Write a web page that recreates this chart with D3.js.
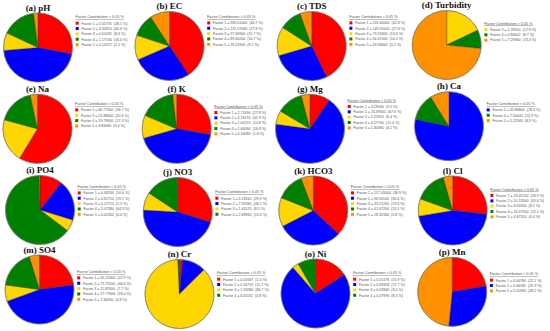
<!DOCTYPE html>
<html>
<head>
<meta charset="utf-8">
<script src="https://cdn.jsdelivr.net/npm/d3@7"></script>
<style>
    body { margin: 0; background: #fff; }
    svg { display: block; }
</style>
</head>
<body>
<div id="graph"></div>
<script>
/*global d3 */

// values
var panelTitles = ["(a) pH", "(b) EC", "(c) TDS", "(d) Turbidity",
                   "(e) Na", "(f) K", "(g) Mg", "(h) Ca",
                   "(i) PO4", "(j) NO3", "(k) HCO3", "(l) Cl",
                   "(m) SO4", "(n) Cr", "(o) Ni", "(p) Mn"];

var panelFactors = [
    [1, 2, 3, 4, 5], [1, 2, 3, 4, 5], [1, 2, 3, 4, 5], [3, 4, 5],
    [1, 3, 4, 5], [1, 2, 3, 4, 5], [1, 2, 3, 4, 5], [2, 4, 5],
    [1, 2, 3, 4, 5], [1, 2, 3, 4], [1, 2, 3, 4, 5], [1, 2, 3, 4, 5],
    [1, 2, 3, 4, 5], [1, 2, 3, 4], [1, 2, 3, 4], [1, 2, 5]
];

var panelValues = [
    [2.05735, 3.34310, 0.61035, 1.17130, 0.15072],
    [339.01000, 231.57000, 97.30900, 89.60200, 76.21900],
    [231.60000, 149.55000, 73.53300, 56.67000, 29.56600],
    [1.78200, 0.86602, 7.29360],
    [66.77300, 23.38600, 19.79600, 3.83060],
    [2.71690, 4.19270, 1.05270, 1.64090, 0.18080],
    [3.28160, 23.39300, 2.22950, 4.27740, 1.40390],
    [45.86800, 7.50040, 5.22340],
    [0.34264, 0.61710, 0.17710, 2.07280, 0.01350],
    [5.13610, 7.92360, 1.45570, 2.69830],
    [117.03000, 96.90100, 43.21200, 41.67200, 18.32300],
    [29.45700, 50.13500, 8.92050, 16.57500, 4.87520],
    [35.22400, 71.75100, 11.87000, 27.77600, 7.36260],
    [0.02067, 0.16719, 1.29280, 0.01131],
    [0.15176, 0.69358, 0.02840, 0.07996],
    [0.04784, 0.06285, 0.10390]
];

var panelShares = [
    [28.1, 45.6, 8.3, 16.0, 2.1],
    [40.7, 27.8, 11.7, 10.7, 9.1],
    [42.8, 27.6, 13.6, 10.5, 5.5],
    [17.9, 8.7, 73.4],
    [58.7, 20.6, 17.4, 3.4],
    [27.8, 42.9, 10.8, 16.8, 1.8],
    [9.5, 67.6, 6.4, 12.4, 4.1],
    [78.3, 12.9, 8.9],
    [10.6, 19.1, 5.5, 64.3, 0.4],
    [29.9, 46.1, 8.5, 15.6],
    [36.9, 30.6, 13.6, 13.1, 5.8],
    [26.9, 45.6, 8.1, 15.1, 4.4],
    [22.9, 46.6, 7.7, 18.0, 4.8],
    [1.4, 11.2, 86.7, 0.8],
    [15.9, 72.7, 3.0, 8.4],
    [22.1, 29.3, 48.5]
];

var legendHeader = "Factor Contribution > 0.05 %";

function dessinCamemberts() {
    "use strict";
    var width = 550,
        height = 331,
        rayon = 34.5,

        couleurs = d3.scaleOrdinal()
            .domain([1, 2, 3, 4, 5])
            .range(["#ff0000", "#0000ff", "#ffd700", "#008000", "#ff9000"]),

        // panel layout: pie centre x, centre y, legend header y
        cases = [
            [38, 47.5, 17], [169.5, 46, 16.7], [311.7, 46, 16.7], [446.7, 45, 23.3],
            [37.5, 128.8, 103.7], [176.7, 128.8, 106.3], [310, 128.8, 100.3], [449, 126.2, 103.7],
            [40, 210, 186.7], [177.7, 212, 192], [313.3, 210.5, 186.7], [452.7, 210.5, 189.3],
            [39.5, 289.5, 271.7], [179.5, 294, 273], [315.5, 293.5, 273], [452.2, 291.8, 274]
        ],

        fmtVal = d3.format(".5f"),
        fmtPct = d3.format(".1f"),

        pie = d3.pie()
            .sort(null)
            .value(function (d) { return d.valeur; }),
        arc = d3.arc()
            .innerRadius(0)
            .outerRadius(rayon),

        svg = d3.select("#graph")
            .append("svg")
                .attr("width", width)
                .attr("height", height);

    panelTitles.forEach(function (titre, i) {
        var c = cases[i],
            donnees = panelFactors[i].map(function (f, j) {
                return {facteur: f, valeur: panelValues[i][j], part: panelShares[i][j]};
            }),
            g = svg.append("g"),
            camembert = g.append("g")
                .attr("transform", "translate(" + c[0] + "," + c[1] + ")"),
            lx = c[0] + rayon + 3,
            legende = g.append("g")
                .attr("transform", "translate(" + lx + "," + c[2] + ")");

        camembert.selectAll("path")
            .data(pie(donnees))
            .enter()
            .append("path")
            .attr("d", arc)
            .style("fill", function (d) { return couleurs(d.data.facteur); })
            .style("stroke", "#333")
            .style("stroke-width", 0.4);
        camembert.append("circle")
            .attr("r", rayon)
            .style("fill", "none")
            .style("stroke", "#8a8a7a")
            .style("stroke-width", 0.6);

        g.append("text")
            .attr("x", c[0])
            .attr("y", c[1] - rayon - 2.5)
            .style("text-anchor", "middle")
            .style("font-family", "'Liberation Serif', 'Times New Roman', serif")
            .style("font-weight", "bold")
            .style("font-size", "9px")
            .style("fill", "#111")
            .text(titre);

        legende.append("text")
            .attr("x", 0)
            .attr("y", 1.3)
            .style("font-family", "'Liberation Sans', Arial, sans-serif")
            .style("font-size", "3.8px")
            .style("fill", "#555")
            .style("text-decoration", "underline")
            .text(legendHeader);

        legende.selectAll(".item")
            .data(donnees)
            .enter()
            .append("rect")
            .attr("x", 0.2)
            .attr("y", function (d, j) { return 6.2 + j * 5.35 - 1.5; })
            .attr("width", 3)
            .attr("height", 3)
            .style("fill", function (d) { return couleurs(d.facteur); });
        legende.selectAll(".libelle")
            .data(donnees)
            .enter()
            .append("text")
            .attr("x", 6)
            .attr("y", function (d, j) { return 6.2 + j * 5.35 + 1.3; })
            .style("font-family", "'Liberation Sans', Arial, sans-serif")
            .style("font-size", "3.6px")
            .style("fill", "#555")
            .style("white-space", "pre")
            .text(function (d) {
                return "Factor " + d.facteur + " = " + fmtVal(d.valeur) + "  (" + fmtPct(d.part) + " %)";
            });
    });
}

dessinCamemberts();
</script>
</body>
</html>
